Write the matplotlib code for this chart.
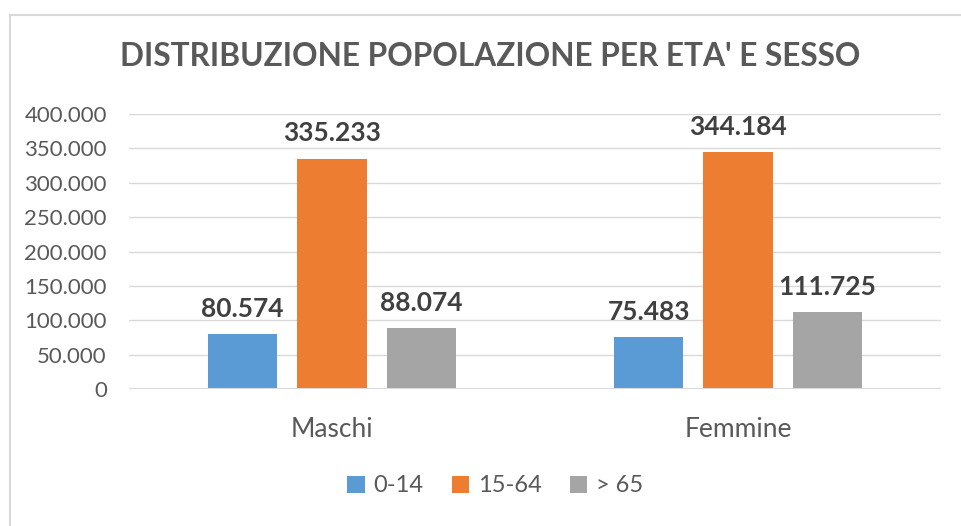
import numpy as np
import matplotlib.pyplot as plt
from matplotlib.patches import Rectangle
from matplotlib.ticker import FuncFormatter

categories = ["Maschi", "Femmine"]
series = ["0-14", "15-64", "> 65"]
values_0_14 = [80574, 75483]
values_15_64 = [335233, 344184]
values_65 = [88074, 111725]
colors = ["#5B9BD5", "#ED7D31", "#A5A5A5"]

plt.rcParams["font.family"] = ["Lato", "DejaVu Sans"]

W, H = 962, 526
fig = plt.figure(figsize=(W / 100, H / 100), dpi=100)
fig.patch.set_facecolor("white")

# chart border (only top and left visible in the crop)
fig.add_artist(Rectangle((10 / W, -0.05), 1.2, 1 - 15 / H + 0.05, transform=fig.transFigure,
                         fill=False, edgecolor="#D9D9D9", linewidth=1.5))

ax = fig.add_axes([129 / W, 1 - 389 / H, (941 - 129) / W, (389 - 114) / H])

x = np.arange(len(categories))
bw = 0.171
step = 0.22
all_vals = [values_0_14, values_15_64, values_65]
for i, (name, vals, c) in enumerate(zip(series, all_vals, colors)):
    pos = x + (i - 1) * step
    bars = ax.bar(pos, vals, bw, color=c, label=name, zorder=3)
    for b, v in zip(bars, vals):
        ax.text(b.get_x() + b.get_width() / 2, v + 19000, f"{v:,}".replace(",", "."),
                ha="center", va="bottom", fontsize=19, fontweight="bold", color="#404040")

ax.set_xlim(-0.5, 1.5)
ax.set_ylim(0, 400000)
ax.set_yticks(np.arange(0, 400001, 50000))
ax.yaxis.set_major_formatter(FuncFormatter(lambda v, p: f"{int(v):,}".replace(",", ".")))
ax.grid(axis="y", color="#D9D9D9", linewidth=1, zorder=0)
ax.axhline(0, color="#D9D9D9", linewidth=1.5, zorder=4)
for s in ax.spines.values():
    s.set_visible(False)
ax.tick_params(axis="both", length=0, colors="#595959")
ax.tick_params(axis="y", pad=16, labelsize=16)
ax.tick_params(axis="x", pad=20, labelsize=19)
ax.set_xticks(x)
ax.set_xticklabels(categories)

fig.text(490 / W, 1 - 57 / H, "DISTRIBUZIONE POPOLAZIONE PER ETA' E SESSO", ha="center", va="center",
         fontsize=22.8, fontweight="bold", color="#595959")

fig.legend(loc="center", bbox_to_anchor=(495 / W, 1 - 486 / H), ncol=3, frameon=False,
           fontsize=17, labelcolor="#595959", handlelength=0.75, handleheight=0.75,
           handletextpad=0.35, columnspacing=1.2)

fig.savefig("out.png", dpi=100)
